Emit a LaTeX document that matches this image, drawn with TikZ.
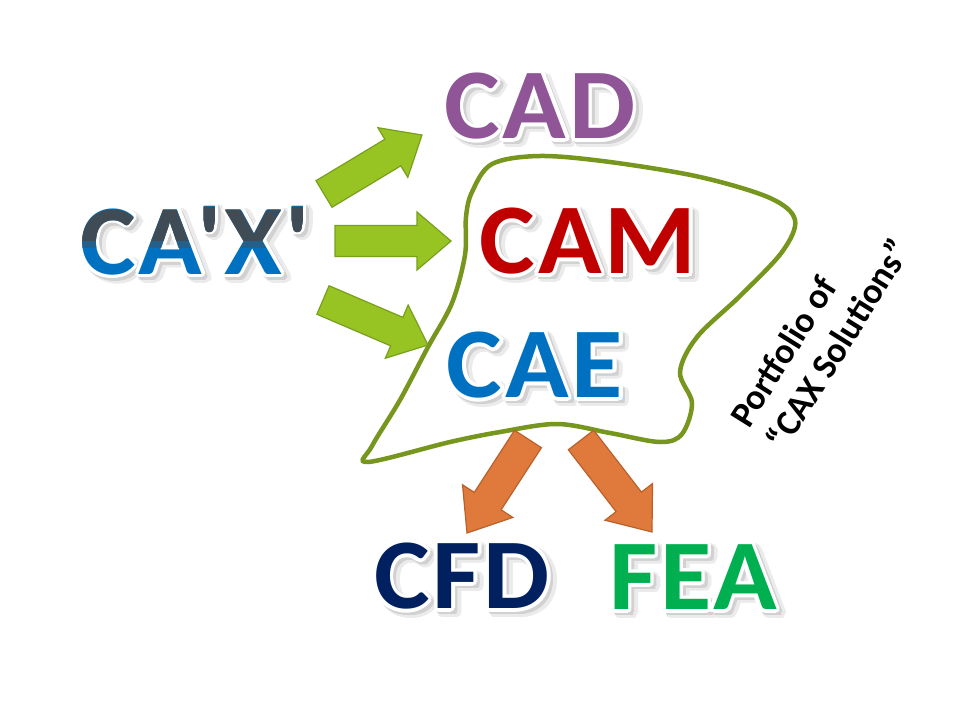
\documentclass[tikz,border=0pt]{standalone}
\usepackage{fontspec}
\usepackage[copies]{contour}
\usetikzlibrary{calc}
\newfontfamily\cx{Carlito}
\newfontfamily\cxwide{Carlito}[FakeStretch=1.05, LetterSpace=3]
\definecolor{cadc}{HTML}{8F5597}
\definecolor{camc}{HTML}{C00000}
\definecolor{caec}{HTML}{0070C0}
\definecolor{cfdc}{HTML}{002060}
\definecolor{feac}{HTML}{00B050}
\definecolor{caxtop}{HTML}{404C55}
\definecolor{caxmid}{HTML}{25608A}
\definecolor{blobc}{HTML}{76961E}
\definecolor{garrf}{HTML}{98C423}
\definecolor{garrd}{HTML}{77A01C}
\definecolor{oarrf}{HTML}{E07A3C}
\definecolor{oarrd}{HTML}{B8612A}
\contournumber{16}
\newcommand\shtext[1]{\contourlength{3pt}\contour{black!18}{#1}}
\newcommand\softtext[1]{\contourlength{5pt}\contour{black!8}{#1}}
\newcommand\wtext[1]{\contourlength{3.5pt}\contour{white}{#1}}
% #1 style, #2 tail, #3 tip, #4 shaft half width, #5 head half width, #6 head length
\newcommand\blockarrow[6]{%
  \draw[#1] let \p1=($(#3)-(#2)$), \n1={atan2(\y1,\x1)}, \n2={veclen(\x1,\y1)} in
    ($(#2)+(\n1+90:#4)$) -- ($(#2)+(\n1:\n2-#6)+(\n1+90:#4)$)
    -- ($(#2)+(\n1:\n2-#6)+(\n1+90:#5)$) -- (#3)
    -- ($(#2)+(\n1:\n2-#6)+(\n1-90:#5)$) -- ($(#2)+(\n1:\n2-#6)+(\n1-90:#4)$)
    -- ($(#2)+(\n1-90:#4)$) -- cycle;}
\begin{document}
\begin{tikzpicture}[x=1pt,y=-1pt,
  big/.style={font=\cxwide\bfseries\fontsize{100}{100}\selectfont, inner sep=0pt},
  shadowtxt/.style={big, text=black!18},
  softtxt/.style={big, text=black!8},
  greenarrow/.style={fill=garrf, draw=garrd, line width=1.2pt, line join=miter},
  orangearrow/.style={fill=oarrf, draw=oarrd, line width=1.2pt, line join=miter},
  blob/.style={draw=blobc, line width=4.5pt},
  portfolio/.style={font=\cx\bfseries\fontsize{36}{43}\selectfont, align=left, inner sep=0pt, rotate=58}]
\fill[white] (0,0) rectangle (955,725);
\useasboundingbox (0,0) rectangle (955,725);

% portfolio outline
\draw[blob] plot[smooth cycle, tension=0.55] coordinates {
  (472,192) (492,164) (540,156) (610,162) (700,177) (770,198) (795,220)
  (782,252) (740,296) (697,337) (680,372) (692,403) (682,434) (660,442)
  (610,433) (557,424) (500,432) (450,442) (368,462) (372,446) (400,400)
  (428,347) (452,303) (465,255) (466,217)};

% arrow end points
\coordinate (g1a) at (324,194); \coordinate (g1b) at (422,135);
\coordinate (g2a) at (335,241); \coordinate (g2b) at (451,241);
\coordinate (g3a) at (323,300); \coordinate (g3b) at (428,345);
\coordinate (o1a) at (528,439); \coordinate (o1b) at (467,533);
\coordinate (o2a) at (581,440); \coordinate (o2b) at (652,532);

\blockarrow{greenarrow}{g1a}{g1b}{15.5pt}{29pt}{34pt}
\blockarrow{greenarrow}{g2a}{g2b}{15.5pt}{29pt}{34pt}
\blockarrow{greenarrow}{g3a}{g3b}{15.5pt}{29pt}{34pt}
\blockarrow{orangearrow}{o1a}{o1b}{16pt}{30pt}{38pt}
\blockarrow{orangearrow}{o2a}{o2b}{16pt}{30pt}{38pt}

% texts: soft shadows
\node[softtxt] (cad-ss) at (545,113) {\softtext{CAD}};
\node[softtxt] (cax-ss) at (200,247) {\softtext{CA'X'}};
\node[softtxt] (cam-ss) at (593,248) {\softtext{CAM}};
\node[softtxt] (cae-ss) at (540,372) {\softtext{CAE}};
\node[softtxt] (cfd-ss) at (467,583) {\softtext{CFD}};
\node[softtxt] (fea-ss) at (698,584) {\softtext{FEA}};
\node[shadowtxt] (cad-s) at (543,111) {\shtext{CAD}};
\node[shadowtxt] (cax-s) at (198,245) {\shtext{CA'X'}};
\node[shadowtxt] (cam-s) at (591,246) {\shtext{CAM}};
\node[shadowtxt] (cae-s) at (538,370) {\shtext{CAE}};
\node[shadowtxt] (cfd-s) at (465,581) {\shtext{CFD}};
\node[shadowtxt] (fea-s) at (696,582) {\shtext{FEA}};

% texts
\node[big, text=cadc] (cad) at (540,108) {\wtext{CAD}};
\node[big, text=camc] (cam) at (588,243) {\wtext{CAM}};
\node[big, text=caec] (cae) at (535,367) {\wtext{CAE}};
\node[big, text=cfdc] (cfd) at (462,578) {\wtext{CFD}};
\node[big, text=feac] (fea) at (693,579) {\wtext{FEA}};
\node[big, text=caec] (cax) at (195,242) {\wtext{CA'X'}};
\begin{scope}
  \clip (0,0) rectangle (955,247);
  \node[big, text=caxmid] (cax-m) at (cax.center) {CA'X'};
\end{scope}
\begin{scope}
  \clip (0,0) rectangle (955,240);
  \node[big, text=caxtop] (cax-t) at (cax.center) {CA'X'};
\end{scope}

\node[portfolio] (port) at (820,333) {Portfolio of\\“CAX Solutions”};
\end{tikzpicture}
\end{document}
